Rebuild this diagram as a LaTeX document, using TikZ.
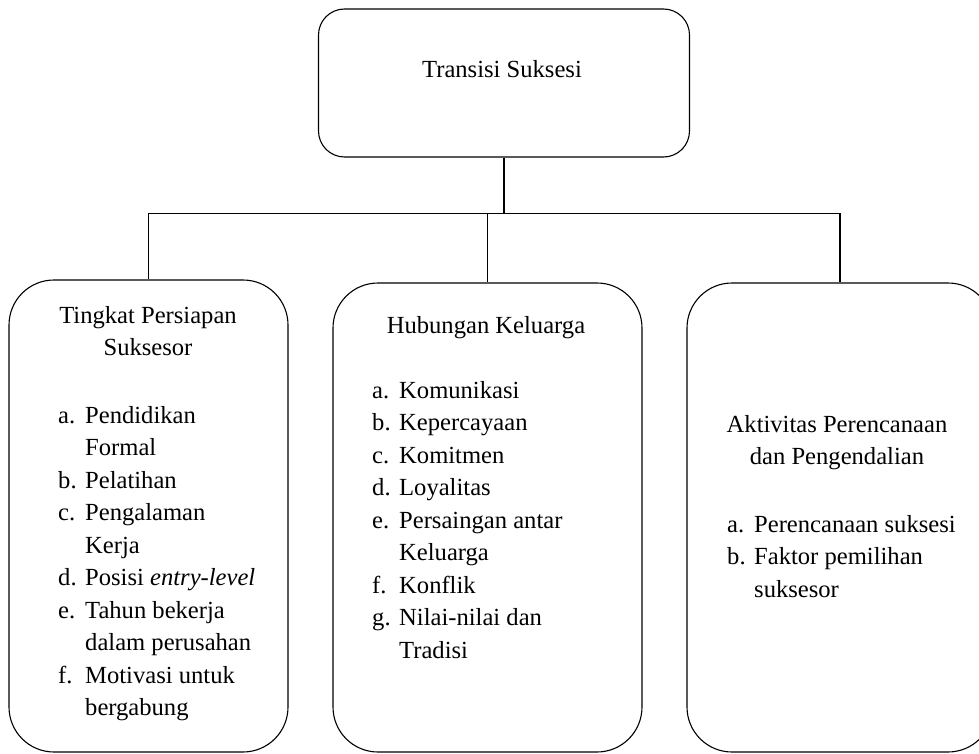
\documentclass[tikz,border=0pt]{standalone}
\usepackage{fontspec}
\setmainfont{Liberation Serif}
\usetikzlibrary{positioning}

\tikzset{
	box/.style={draw, line width=1.1pt, rounded corners=#1, inner sep=0pt},
	box/.default=45pt,
	txt/.style={inner sep=0pt, font=\fontsize{24.6}{32.5}\selectfont},
	wire/.style={line width=1.1pt}
}
\newcommand{\itemlist}[1]{\begin{tabular}[t]{@{}p{27pt}@{}l@{}}#1\end{tabular}}
\newcommand{\headlines}[1]{\begin{tabular}[t]{@{}c@{}}#1\end{tabular}}

\begin{document}
\begin{tikzpicture}[x=1pt, y=-1pt]
	\useasboundingbox (0,0) rectangle (979,754);
	% boxes
	\node[box=26pt, minimum width=371pt, minimum height=148pt] (top) at (504,83) {};
	\node[box, minimum width=279pt, minimum height=472pt] (left) at (148.5,516) {};
	\node[box, minimum width=309pt, minimum height=469pt] (mid) at (487.5,517.5) {};
	\node[box, minimum width=306pt, minimum height=469pt] (right) at (840,517.5) {};
	% connectors
	\coordinate (bus) at ([yshift=-56pt]top.south);
	\draw[wire] (top.south) -- (bus);
	\draw[wire] (bus) -| (left.north);
	\draw[wire] (bus) -| (mid.north);
	\draw[wire] (bus) -| (right.north);
	% texts
	\node[txt, anchor=base] (topT) at (502,78) {Transisi Suksesi};

	\node[txt, anchor=base] (leftH) at (148,323) {\headlines{Tingkat Persiapan\\Suksesor}};
	\node[txt, anchor=base west] (leftL) at (58,423) {\itemlist{
		a. & Pendidikan\\
		   & Formal\\
		b. & Pelatihan\\
		c. & Pengalaman\\
		   & Kerja\\
		d. & Posisi \textit{entry-level}\\
		e. & Tahun bekerja\\
		   & dalam perusahan\\
		f. & Motivasi untuk\\
		   & bergabung}};

	\node[txt, anchor=base] (midH) at (486,333) {Hubungan Keluarga};
	\node[txt, anchor=base west] (midL) at (372,398) {\itemlist{
		a. & Komunikasi\\
		b. & Kepercayaan\\
		c. & Komitmen\\
		d. & Loyalitas\\
		e. & Persaingan antar\\
		   & Keluarga\\
		f. & Konflik\\
		g. & Nilai-nilai dan\\
		   & Tradisi}};

	\node[txt, anchor=base] (rightH) at (837,432) {\headlines{Aktivitas Perencanaan\\dan Pengendalian}};
	\node[txt, anchor=base west] (rightL) at (727,532) {\itemlist{
		a. & Perencanaan suksesi\\
		b. & Faktor pemilihan\\
		   & suksesor}};
\end{tikzpicture}
\end{document}
